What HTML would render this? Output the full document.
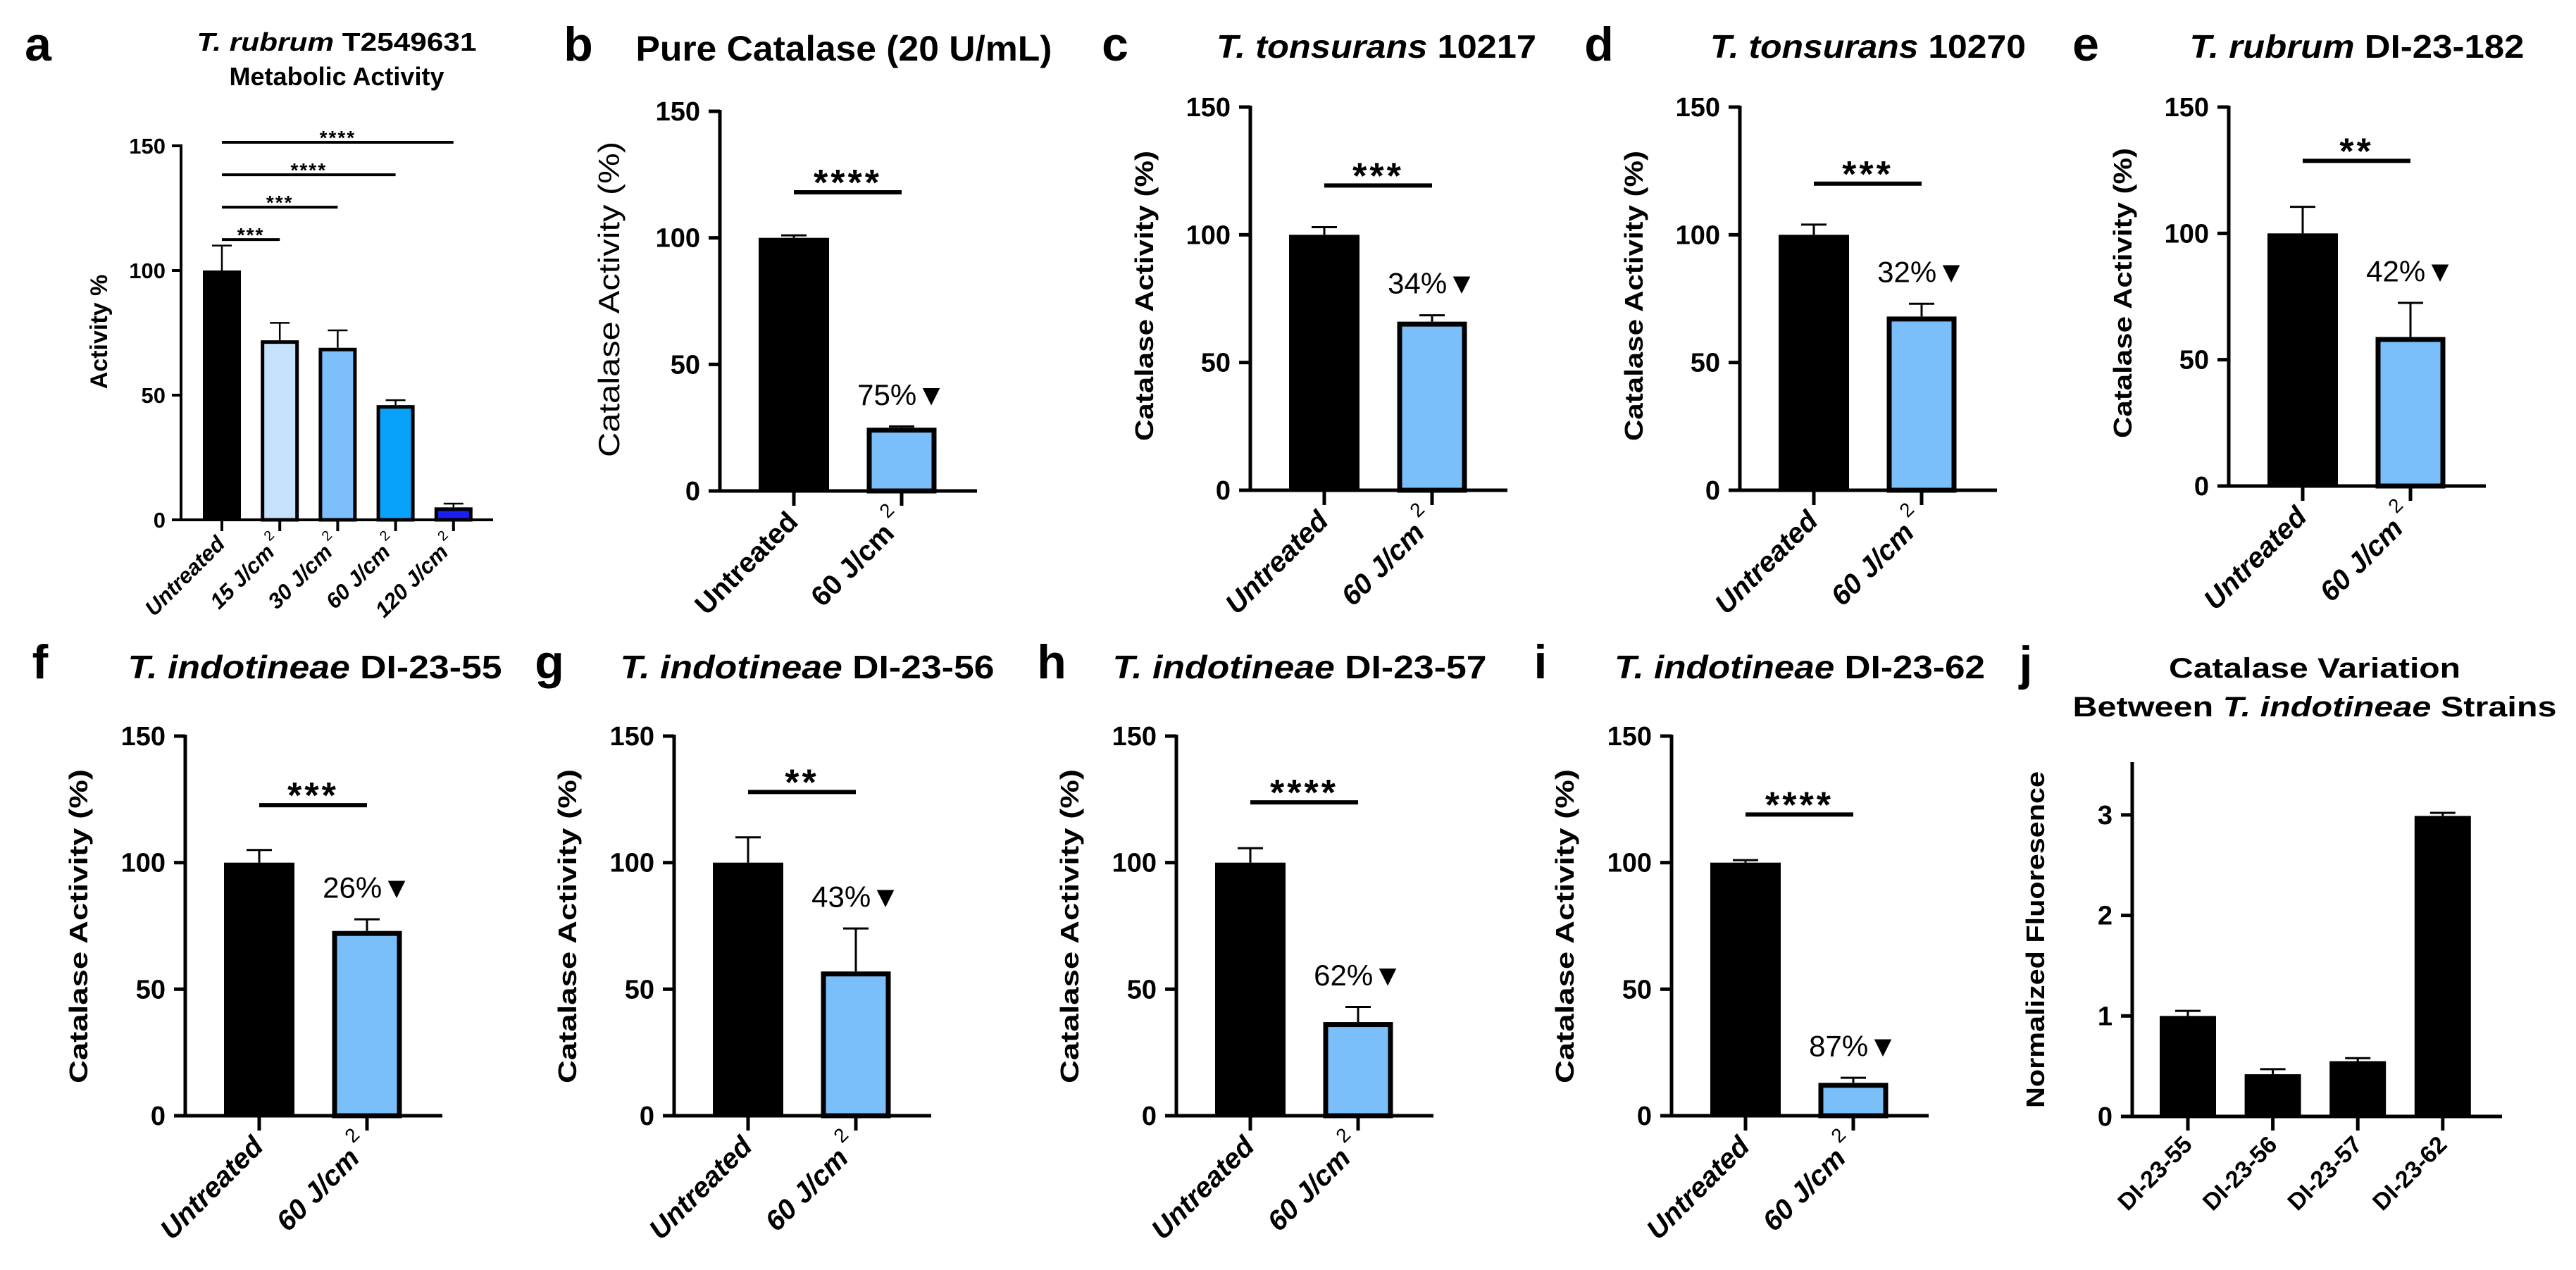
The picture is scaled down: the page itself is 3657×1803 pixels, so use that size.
<!DOCTYPE html>
<html><head><meta charset="utf-8"><style>
html,body{margin:0;padding:0;background:#fff;}
svg{display:block;font-family:"Liberation Sans",Arial,sans-serif;}
</style></head><body>
<svg id="fig" xmlns="http://www.w3.org/2000/svg" width="3657" height="1803" viewBox="0 0 3657 1803"></svg>
<script>
// ---------- data ----------
const aCategories = ["Untreated","15 J/cm","30 J/cm","60 J/cm","120 J/cm"];
const aValues = [100,72,69,46,5];
const aErrTop = [110,79,76,48,6.5];
const aSigLevels = [112.4,125.4,138.4,151.4];
const aSigLabels = ["***","***","****","****"];
const aColors = ["#000000","#c6e2fb","#7cbffa","#09a2fb","#1a1ff2"];

const catCategories = ["Untreated","60 J/cm"];
const yTicks = [0,50,100,150];
const yTickLabels = ["0","50","100","150"];

const bValues=[100,25],   bErr=[101,25.5],  bSig=118,   bStars="****", bPct="75%";
const cValues=[100,66],   cErr=[103,68.5],  cSig=119.3, cStars="***",  cPct="34%";
const dValues=[100,68],   dErr=[104,73],    dSig=120,   dStars="***",  dPct="32%";
const eValues=[100,59],   eErr=[110.5,72.5],eSig=128.7, eStars="**",   ePct="42%";
const fValues=[100,73],   fErr=[105,77.6],  fSig=122.7, fStars="***",  fPct="26%";
const gValues=[100,57],   gErr=[110,74],    gSig=127.9, gStars="**",   gPct="43%";
const hValues=[100,37],   hErr=[105.7,43],  hSig=123.8, hStars="****", hPct="62%";
const iValues=[100,13],   iErr=[101,15],    iSig=119,   iStars="****", iPct="87%";

const jCategories = ["DI-23-55","DI-23-56","DI-23-57","DI-23-62"];
const jValues = [1.0,0.42,0.55,2.99];
const jErrTop = [1.05,0.47,0.58,3.02];
const jTicks = [0,1,2,3];
const jTickLabels = ["0","1","2","3"];

// ---------- helpers ----------
const NS="http://www.w3.org/2000/svg";
const svg=document.getElementById('fig');
function mk(tag,attrs,parent,text){
  const el=document.createElementNS(NS,tag);
  for(const k in attrs) el.setAttribute(k,attrs[k]);
  if(text!==undefined) el.textContent=text;
  (parent||svg).appendChild(el); return el;
}
function group(name){const g=mk('g',{});return g;}

function panelLetter(ch,x,y){
  const t=mk('text',{x:x,y:y,'font-size':68,'font-weight':'bold','text-anchor':'middle'},svg,ch);
  
  
}
function title(parent,parts,cx,y,size,len,name){
  const t=mk('text',{x:cx,y:y,'font-size':size,'font-weight':'bold','text-anchor':'middle',textLength:len,lengthAdjust:'spacingAndGlyphs'},parent);
  parts.forEach(p=>{const s=mk('tspan',p[1]?{'font-style':'italic'}:{},t,p[0]);});
  
  
}

function catPanel(id,L,values,errs,sig,stars,pct,opts){
  const g=group('panel-'+id);
  const A=L.A, y0=L.y0, y150=L.y150;
  const ys=v=>y0-(v/150)*(y0-y150);
  const cx=[A+105,A+258];
  // axes
  const ya=mk('line',{x1:A,y1:y150-2,x2:A,y2:y0+2,stroke:'#000','stroke-width':5},g);
  
  const xa=mk('line',{x1:A-2,y1:y0,x2:A+365,y2:y0,stroke:'#000','stroke-width':5},g);
  
  yTicks.forEach((v,i)=>{
    mk('line',{x1:A-16,y1:ys(v),x2:A,y2:ys(v),stroke:'#000','stroke-width':5},g);
    const t=mk('text',{x:A-28,y:ys(v)+13,'font-size':38,'font-weight':'bold','text-anchor':'end'},g,yTickLabels[i]);
    
  });
  // y label
  const yl=mk('text',{x:0,y:0,'font-size':opts.ylSize,'font-weight':opts.ylBold?'bold':'normal','text-anchor':'middle',textLength:opts.ylLen,lengthAdjust:'spacingAndGlyphs',transform:`translate(${A-opts.ylOff},${opts.ylY}) rotate(-90)`},g,"Catalase Activity (%)");
  
  // bars
  values.forEach((v,i)=>{
    const top=ys(v);
    // error bar
    mk('line',{x1:cx[i],y1:ys(errs[i]),x2:cx[i],y2:top,stroke:'#000','stroke-width':3},g);
    mk('line',{x1:cx[i]-18,y1:ys(errs[i]),x2:cx[i]+18,y2:ys(errs[i]),stroke:'#000','stroke-width':3},g);
    let r;
    if(i===0) r=mk('rect',{x:cx[i]-50,y:top,width:100,height:y0-top,fill:'#000'},g);
    else r=mk('rect',{x:cx[i]-46,y:top+3.5,width:92,height:Math.max(0,y0-top-3.5),fill:'#7abff9',stroke:'#000','stroke-width':7},g);
    
    
    mk('line',{x1:cx[i],y1:y0,x2:cx[i],y2:y0+21,stroke:'#000','stroke-width':5},g);
    const tl=mk('text',{x:0,y:0,'font-size':40,'font-weight':'bold','font-style':opts.italic?'italic':'normal','text-anchor':'end',transform:`translate(${cx[i]+8},${y0+46}) rotate(-45)`},g,catCategories[i]);
    if(i===1){mk('tspan',{dy:-24,'font-size':28,'font-weight':'normal','font-style':'normal'},tl," 2");}
    
  });
  // significance
  const sy=ys(sig);
  const sl=mk('line',{x1:cx[0],y1:sy,x2:cx[1],y2:sy,stroke:'#000','stroke-width':6},g);
  
  const st=mk('text',{x:(cx[0]+cx[1])/2,y:sy+4,'font-size':52,'font-weight':'bold','text-anchor':'middle','letter-spacing':4},g,stars);
  
  const pt=mk('text',{x:cx[1],y:ys(errs[1]+8.5),'font-size':42,'text-anchor':'middle'},g,pct+"\u25BC");
  
}

// ---------- panel a ----------
(function(){
  const g=group('panel-a');
  const A=257,y0=738,y150=207;
  const ys=v=>y0-(v/150)*(y0-y150);
  const xs=i=>315+i*82.2;
  mk('line',{x1:A,y1:y150-2,x2:A,y2:y0+2,stroke:'#000','stroke-width':4},g);
  mk('line',{x1:A-2,y1:y0,x2:700,y2:y0,stroke:'#000','stroke-width':4},g);
  yTicks.forEach((v,i)=>{
    mk('line',{x1:A-13,y1:ys(v),x2:A,y2:ys(v),stroke:'#000','stroke-width':4},g);
    const t=mk('text',{x:A-22,y:ys(v)+11,'font-size':31,'font-weight':'bold','text-anchor':'end'},g,yTickLabels[i]);
    
  });
  const yl=mk('text',{x:0,y:0,'font-size':34,'font-weight':'bold','text-anchor':'middle',transform:`translate(152,471) rotate(-90)`},g,"Activity %");
  
  aValues.forEach((v,i)=>{
    const cx=xs(i),top=ys(v);
    mk('line',{x1:cx,y1:ys(aErrTop[i]),x2:cx,y2:top,stroke:'#000','stroke-width':2.5},g);
    mk('line',{x1:cx-14,y1:ys(aErrTop[i]),x2:cx+14,y2:ys(aErrTop[i]),stroke:'#000','stroke-width':2.5},g);
    let r;
    if(i===0) r=mk('rect',{x:cx-27,y:top,width:54,height:y0-top,fill:'#000'},g);
    else r=mk('rect',{x:cx-24.5,y:top+2.5,width:49,height:Math.max(0,y0-top-2.5),fill:aColors[i],stroke:'#000','stroke-width':5},g);
    
    mk('line',{x1:cx,y1:y0,x2:cx,y2:y0+16,stroke:'#000','stroke-width':4},g);
    const tl=mk('text',{x:0,y:0,'font-size':31,'font-weight':'bold','font-style':'italic','text-anchor':'end',transform:`translate(${cx+6},${y0+36}) rotate(-45)`},g,aCategories[i]);
    if(i>0){mk('tspan',{dy:-18,'font-size':20,'font-weight':'normal','font-style':'normal'},tl," 2");}
    
  });
  aSigLevels.forEach((lv,k)=>{
    const y=ys(lv);
    const l=mk('line',{x1:xs(0),y1:y,x2:xs(k+1),y2:y,stroke:'#000','stroke-width':4},g);
    
    const t=mk('text',{x:(xs(0)+xs(k+1))/2,y:y+3,'font-size':28,'font-weight':'bold','text-anchor':'middle','letter-spacing':2},g,aSigLabels[k]);
    
  });
  title(g,[["T. rubrum ",true],["T2549631",false]],478,72,36,397,'panel-a-title');
  title(g,[["Metabolic Activity",false]],478,121,36,305,'panel-a-subtitle');
})();
panelLetter('a',54,86);

// ---------- catalase panels ----------
const topOpts={italic:true,ylBold:true,ylSize:36,ylLen:412,ylOff:138,ylY:420};
const botOpts={italic:true,ylBold:true,ylSize:36,ylLen:446,ylOff:139,ylY:1315};
catPanel('b',{A:1022,y0:697,y150:158},bValues,bErr,bSig,bStars,bPct,{italic:false,ylBold:false,ylSize:42,ylLen:448,ylOff:143,ylY:425});
catPanel('c',{A:1775,y0:696,y150:152},cValues,cErr,cSig,cStars,cPct,topOpts);
catPanel('d',{A:2470,y0:696,y150:152},dValues,dErr,dSig,dStars,dPct,topOpts);
catPanel('e',{A:3164,y0:690,y150:152},eValues,eErr,eSig,eStars,ePct,Object.assign({},topOpts,{ylY:416}));
catPanel('f',{A:263,y0:1584,y150:1045},fValues,fErr,fSig,fStars,fPct,botOpts);
catPanel('g',{A:957,y0:1584,y150:1045},gValues,gErr,gSig,gStars,gPct,botOpts);
catPanel('h',{A:1670,y0:1584,y150:1045},hValues,hErr,hSig,hStars,hPct,botOpts);
catPanel('i',{A:2373,y0:1584,y150:1045},iValues,iErr,iSig,iStars,iPct,botOpts);

panelLetter('b',821,86);panelLetter('c',1583,86);panelLetter('d',2270,86);panelLetter('e',2961,86);
panelLetter('f',57,963);panelLetter('g',780,963);panelLetter('h',1493,963);panelLetter('i',2187,963);panelLetter('j',2876,965);

const tg=group('titles');
title(tg,[["Pure Catalase (20 U/mL)",false]],1198,86,50,591,'panel-b-title');
title(tg,[["T. tonsurans ",true],["10217",false]],1954,82,46,454,'panel-c-title');
title(tg,[["T. tonsurans ",true],["10270",false]],2652,82,46,448,'panel-d-title');
title(tg,[["T. rubrum ",true],["DI-23-182",false]],3346,82,46,475,'panel-e-title');
title(tg,[["T. indotineae ",true],["DI-23-55",false]],447,963,46,531,'panel-f-title');
title(tg,[["T. indotineae ",true],["DI-23-56",false]],1146,963,46,531,'panel-g-title');
title(tg,[["T. indotineae ",true],["DI-23-57",false]],1845,963,46,531,'panel-h-title');
title(tg,[["T. indotineae ",true],["DI-23-62",false]],2555,963,46,526,'panel-i-title');
title(tg,[["Catalase Variation",false]],3286,962,40,414,'panel-j-title');
title(tg,[["Between ",false],["T. indotineae",true],[" Strains",false]],3286,1017,40,687,'panel-j-subtitle');

// ---------- panel j ----------
(function(){
  const g=group('panel-j');
  const A=3027,y0=1585,unit=142.7;
  const ys=v=>y0-v*unit;
  const xs=i=>3106+i*120.6;
  mk('line',{x1:A,y1:1082,x2:A,y2:y0+2,stroke:'#000','stroke-width':5},g);
  mk('line',{x1:A-2,y1:y0,x2:3552,y2:y0,stroke:'#000','stroke-width':5},g);
  jTicks.forEach((v,i)=>{
    mk('line',{x1:A-16,y1:ys(v),x2:A,y2:ys(v),stroke:'#000','stroke-width':5},g);
    const t=mk('text',{x:A-28,y:ys(v)+13,'font-size':38,'font-weight':'bold','text-anchor':'end'},g,jTickLabels[i]);
    
  });
  const yl=mk('text',{x:0,y:0,'font-size':36,'font-weight':'bold','text-anchor':'middle',textLength:478,lengthAdjust:'spacingAndGlyphs',transform:`translate(2902,1334) rotate(-90)`},g,"Normalized Fluoresence");
  
  jValues.forEach((v,i)=>{
    const cx=xs(i),top=ys(v);
    mk('line',{x1:cx,y1:ys(jErrTop[i]),x2:cx,y2:top,stroke:'#000','stroke-width':3},g);
    mk('line',{x1:cx-18,y1:ys(jErrTop[i]),x2:cx+18,y2:ys(jErrTop[i]),stroke:'#000','stroke-width':3},g);
    const r=mk('rect',{x:cx-40,y:top,width:80,height:y0-top,fill:'#000'},g);
    
    mk('line',{x1:cx,y1:y0,x2:cx,y2:y0+20,stroke:'#000','stroke-width':5},g);
    const tl=mk('text',{x:0,y:0,'font-size':34,'font-weight':'bold','text-anchor':'end',transform:`translate(${cx+8},${y0+42}) rotate(-45)`},g,jCategories[i]);
    
  });
})();
</script>
</body></html>
